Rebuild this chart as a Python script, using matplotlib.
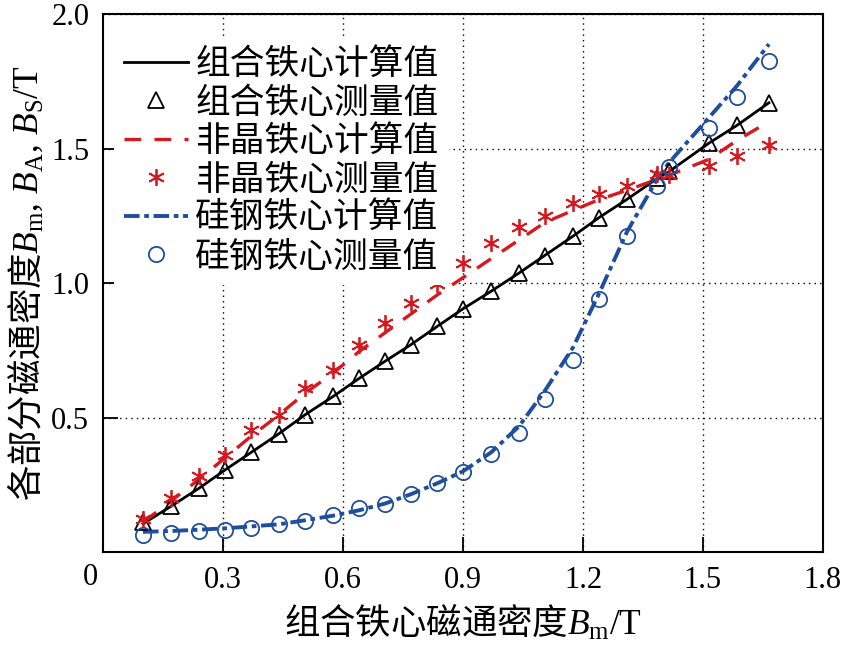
import matplotlib
matplotlib.use("Agg")
import matplotlib.pyplot as plt
import numpy as np

# common B_m sampling points (combined core flux density, T)
bm = [0.10, 0.17, 0.24, 0.305, 0.37, 0.44, 0.505, 0.575, 0.64, 0.705, 0.77, 0.835,
      0.90, 0.97, 1.04, 1.105, 1.175, 1.24, 1.31, 1.385, 1.415, 1.515, 1.585, 1.665]

# combined core
comb_calc = [0.105, 0.17, 0.237, 0.305, 0.37, 0.44, 0.51, 0.578, 0.645, 0.709, 0.771, 0.838,
             0.904, 0.969, 1.037, 1.103, 1.174, 1.243, 1.311, 1.388, 1.414, 1.52, 1.586, 1.67]
comb_meas = [0.11, 0.17, 0.237, 0.305, 0.37, 0.44, 0.51, 0.58, 0.647, 0.709, 0.771, 0.839,
             0.904, 0.969, 1.038, 1.102, 1.175, 1.243, 1.311, 1.39, 1.415, 1.522, 1.587, 1.671]

# amorphous core
amor_calc = [0.11, 0.19, 0.27, 0.35, 0.43, 0.51, 0.59, 0.665, 0.745, 0.815, 0.885, 0.955,
             1.02, 1.09, 1.16, 1.225, 1.27, 1.31, 1.345, 1.385, 1.40, 1.46, 1.53, 1.60]
amor_meas = [0.122, 0.20, 0.283, 0.361, 0.454, 0.51, 0.61, 0.676, 0.771, 0.852, 0.924, 0.998,
             1.075, 1.147, 1.209, 1.249, 1.297, 1.33, 1.361, 1.404, 1.40, 1.435, 1.472, 1.514]

# silicon steel core
si_calc = [0.075, 0.078, 0.083, 0.088, 0.095, 0.103, 0.118, 0.135, 0.155, 0.18, 0.215, 0.255,
           0.30, 0.37, 0.467, 0.60, 0.76, 0.96, 1.19, 1.385, 1.447, 1.615, 1.733, 1.888]
si_meas = [0.065, 0.072, 0.078, 0.082, 0.09, 0.103, 0.115, 0.136, 0.163, 0.179, 0.215, 0.256,
           0.299, 0.366, 0.443, 0.569, 0.712, 0.942, 1.174, 1.361, 1.432, 1.578, 1.693, 1.826]

labels = ['组合铁心计算值', '组合铁心测量值', '非晶铁心计算值',
          '非晶铁心测量值', '硅钢铁心计算值', '硅钢铁心测量值']
xlabel = r'组合铁心磁通密度$B_{\mathrm{m}}/\mathrm{T}$'
ylabel = r'各部分磁通密度$B_{\mathrm{m}},\,B_{\mathrm{A}},\,B_{\mathrm{S}}/\mathrm{T}$'

red = '#d7191f'
blue = '#1f4e9c'
cjk = 'Noto Sans CJK SC'

plt.rcParams['font.family'] = ['Liberation Serif', cjk]
plt.rcParams['mathtext.fontset'] = 'custom'
plt.rcParams['mathtext.rm'] = 'Liberation Serif'
plt.rcParams['mathtext.it'] = 'Liberation Serif:italic'

fig = plt.figure(figsize=(8.41, 6.46), dpi=100)
ax = fig.add_axes([0.1225, 0.1455, 0.856, 0.8328])

ax.plot(bm, comb_calc, '-', color='black', lw=2.0, label=labels[0], zorder=3)
ax.plot(bm, comb_meas, '^', color='black', mfc='none', ms=11, mew=1.3,
        ls='none', label=labels[1], zorder=4)
ax.plot(bm, amor_calc, color=red, lw=2.4, dashes=[5, 4], label=labels[2], zorder=3)
ax.plot(bm, amor_meas, marker=(6, 2, 0), color=red, ms=12, mew=1.3,
        ls='none', label=labels[3], zorder=4)
ax.plot(bm, si_calc, color=blue, lw=2.8, dashes=[4, 1.2, 1.2, 1.2], label=labels[4], zorder=3)
ax.plot(bm, si_meas, 'o', color=blue, mfc='none', ms=11, mew=1.3,
        ls='none', label=labels[5], zorder=4)

ax.set_xlim(0, 1.8)
ax.set_ylim(0, 2.0)
ax.set_xticks([0.3, 0.6, 0.9, 1.2, 1.5, 1.8])
ax.set_xticklabels(['0.3', '0.6', '0.9', '1.2', '1.5', '1.8'])
ax.set_yticks([0.5, 1.0, 1.5, 2.0])
ax.set_yticklabels(['0.5', '1.0', '1.5', '2.0'])
ax.tick_params(direction='in', length=11, width=1.3, labelsize=22, pad=10)
ax.text(-0.018, -0.048, '0', transform=ax.transAxes, fontsize=22,
        ha='center', va='center')
ax.grid(True, color='black', ls=(0, (1, 3)), lw=1.0)
for s in ax.spines.values():
    s.set_linewidth(1.5)

ax.set_xlabel(xlabel, fontsize=25.5, family=cjk, labelpad=6)
ax.set_ylabel(ylabel, fontsize=25.5, family=cjk, labelpad=4)

leg = ax.legend(loc='upper left', bbox_to_anchor=(0.015, 0.958), borderaxespad=0,
                prop={'family': cjk, 'size': 25},
                handlelength=1.85, handletextpad=0.2, labelspacing=0.1,
                frameon=True, fancybox=False, edgecolor='none', framealpha=1,
                borderpad=0.3)

fig.savefig('out.png', dpi=100)
